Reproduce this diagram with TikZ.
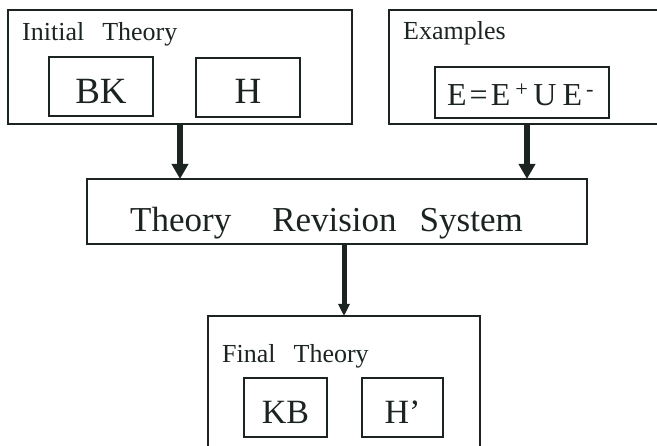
\documentclass[tikz,border=0pt]{standalone}
\usepackage{fontspec}
\setmainfont{Liberation Serif}
\usetikzlibrary{arrows.meta,calc}
\definecolor{ink}{RGB}{28,36,34}
\begin{document}
\begin{tikzpicture}[x=1pt,y=-1pt,
  frame/.style={draw=ink, line width=1.5pt, inner sep=0pt, outer sep=0pt, anchor=north west},
  lbl/.style={text=ink, inner sep=0pt, anchor=base west, font=\fontsize{26}{30}\selectfont},
  big/.style={text=ink, inner sep=0pt, anchor=base, font=\fontsize{37}{40}\selectfont},
  mid/.style={text=ink, inner sep=0pt, anchor=base, font=\fontsize{34}{38}\selectfont},
  heavyarrow/.style={draw=ink, line width=6pt, -{Triangle[width=16pt,length=15pt]}},
  lightarrow/.style={draw=ink, line width=5pt, -{Triangle[width=11pt,length=12pt]}}
]
\useasboundingbox (0,0) rectangle (657,446);
\clip (0,0) rectangle (657,446);

% Initial theory
\node[frame, minimum width=344pt, minimum height=114pt] (init) at (8,10) {};
\node[lbl] (initlbl) at (22,41) {Initial\hspace{18pt}Theory};
\node[frame, minimum width=104pt, minimum height=59pt] (bk) at (49,57) {};
\node[big] (bktxt) at (101,104) {BK};
\node[frame, minimum width=104pt, minimum height=59pt] (h) at (196,58) {};
\node[big] (htxt) at (248,104) {H};

% Examples
\node[frame, minimum width=300pt, minimum height=114pt] (ex) at (389,10) {};
\node[lbl] (exlbl) at (403,40) {Examples};
\node[frame, minimum width=174pt, minimum height=51pt] (eq) at (435,67) {};
\node[text=ink, inner sep=0pt, anchor=base west, font=\fontsize{32}{36}\selectfont] (eqtxt) at (447,106)
  {E\hspace{3pt}=\hspace{3pt}E\hspace{5pt}\textsuperscript{+}\hspace{5pt}U\hspace{6pt}E\hspace{4pt}\textsuperscript{-}};

% Theory revision system
\node[frame, minimum width=500pt, minimum height=65pt] (trs) at (87,179) {};
\node[text=ink, inner sep=0pt, anchor=base west, font=\fontsize{35}{40}\selectfont] (trstxt) at (130,232)
  {Theory\hspace{41pt}Revision\hspace{23pt}System};

% Final theory
\node[frame, minimum width=272pt, minimum height=150pt] (final) at (208,316) {};
\node[lbl] (finlbl) at (222,363) {Final\hspace{18pt}Theory};
\node[frame, minimum width=83pt, minimum height=59pt] (kb) at (244,378) {};
\node[mid] (kbtxt) at (285.5,424) {KB};
\node[frame, minimum width=81pt, minimum height=59pt] (hp) at (362,378) {};
\node[mid] (hptxt) at (402.5,424) {H’};

% Arrows
\draw[heavyarrow] (init.south) -- (init.south |- trs.north);
\draw[heavyarrow] ($(eq.south |- ex.south)+(5,0)$) -- ($(eq.south |- trs.north)+(5,0)$);
\draw[lightarrow] (trs.south -| final.north) -- (final.north);
\end{tikzpicture}
\end{document}
